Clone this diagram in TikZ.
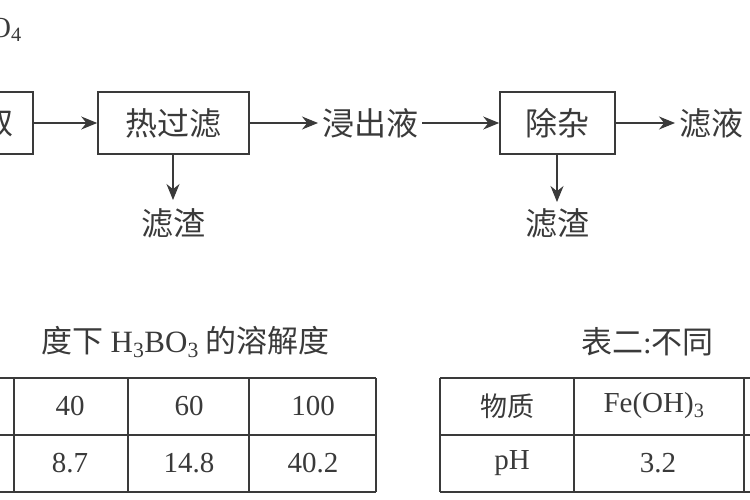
\documentclass[tikz,border=0pt]{standalone}
\usepackage{fontspec}
\setmainfont{Liberation Serif}
\newfontfamily\cjk{Noto Sans CJK SC}
\usetikzlibrary{arrows.meta}
\definecolor{ink}{HTML}{3A3A3A}
\tikzset{
  procbox/.style={draw=ink,line width=1.6pt,minimum height=62pt,inner sep=0pt,font=\cjk\fontsize{32}{34}\selectfont,text=ink},
  lbl/.style={font=\cjk\fontsize{32}{34}\selectfont,text=ink,inner sep=0pt,outer sep=4pt},
  flow/.style={draw=ink,line width=1.2pt,-{Stealth[length=16pt,width=13pt]}},
  cell/.style={font=\fontsize{29}{30}\selectfont,text=ink,inner sep=0pt},
  ccell/.style={font=\cjk\fontsize{27}{30}\selectfont,text=ink,inner sep=0pt},
  capt/.style={font=\cjk\fontsize{31}{34}\selectfont,text=ink,inner sep=0pt},
  rule/.style={draw=ink,line width=1.2pt}
}
\begin{document}
\begin{tikzpicture}[x=1pt,y=-1pt]
\useasboundingbox (0,0) rectangle (750,500);
\clip (0,0) rectangle (750,500);
\fill[white] (0,0) rectangle (750,500);
\node[cell,anchor=east] (o4) at (22,30) {O\textsubscript{4}};
% flow
\node[procbox,minimum width=70pt] (b0) at (-2,123) {取};
\node[procbox,minimum width=151pt] (b1) at (173.5,123) {热过滤};
\node[lbl] (jc) at (370,123) {浸出液};
\node[procbox,minimum width=115pt] (b2) at (557.5,123) {除杂};
\node[lbl,anchor=west] (lv) at (675,123) {滤液};
\draw[flow] (b0) -- (b1);
\draw[flow] (b1) -- (jc);
\draw[flow] (jc) -- (b2);
\draw[flow] (b2) -- (lv);
\node[lbl] (z1) at (173,223) {滤渣};
\node[lbl] (z2) at (557,223) {滤渣};
\coordinate (e1) at (173,200);
\coordinate (e2) at (557,202);
\draw[flow] (b1.south -| e1) -- (e1);
\draw[flow] (b2.south -| e2) -- (e2);
% table 1
\node[capt,anchor=east] (cap1) at (330,342) {度下 {\rmfamily H\textsubscript{3}BO\textsubscript{3}} 的溶解度};
\draw[rule] (0,378) -- (376,378) (0,435) -- (376,435) (0,492) -- (376,492);
\draw[rule] (14,378) -- (14,492) (128,378) -- (128,492) (249,378) -- (249,492) (376,378) -- (376,492);
\node[cell] (t11) at (70,406) {40};
\node[cell] (t12) at (189,406) {60};
\node[cell] (t13) at (313,406) {100};
\node[cell] (t21) at (70,463) {8.7};
\node[cell] (t22) at (189,463) {14.8};
\node[cell] (t23) at (313,463) {40.2};
% table 2
\node[capt,anchor=west] (cap2) at (581,342) {表二{\rmfamily :}不同};
\draw[rule] (440,378) -- (750,378) (440,435) -- (750,435) (440,492) -- (750,492);
\draw[rule] (440,378) -- (440,492) (574,378) -- (574,492) (744,378) -- (744,492);
\node[ccell] (s11) at (507,406) {物质};
\node[cell] (s12) at (654,406) {Fe(OH)\textsubscript{3}};
\node[cell] (s21) at (512,463) {pH};
\node[cell] (s22) at (658,463) {3.2};
\end{tikzpicture}
\end{document}
